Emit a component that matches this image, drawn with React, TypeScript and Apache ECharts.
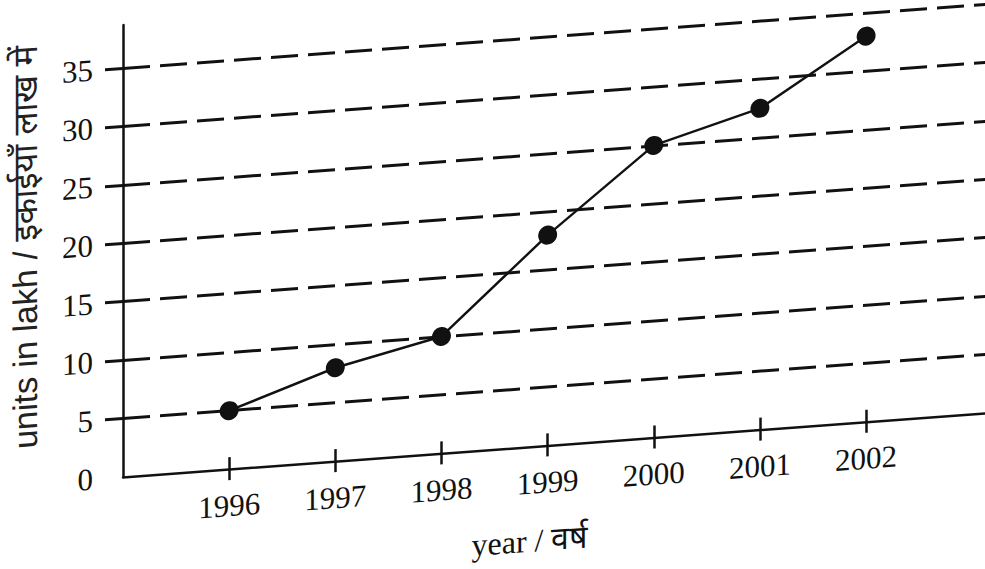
import React, { useEffect, useRef } from "react";
import * as echarts from "echarts";

// ---- data ----
const years = [1996, 1997, 1998, 1999, 2000, 2001, 2002];
const units = [5, 8, 10, 18, 25, 27.5, 33];
const yTickValues = [5, 10, 15, 20, 25, 30, 35];
const yLabelValues = [0, 5, 10, 15, 20, 25, 30, 35];
const xTitle = "year / वर्ष";
const yTitle = "units in lakh / इकाईयाँ लाख में";

const INK = "#111";
const SERIF = "'Liberation Serif', 'DejaVu Serif', serif";
const SANS = "'Liberation Sans', 'Noto Sans', 'DejaVu Sans', sans-serif";

export default function App() {
  const ref = useRef<HTMLDivElement>(null);

  useEffect(() => {
    document.body.style.margin = "0";
    document.body.style.overflow = "hidden";
    document.documentElement.style.overflow = "hidden";
    if (!ref.current) return;
    const chart = echarts.init(ref.current, null, {
      renderer: "svg",
      width: 985,
      height: 640,
    });

    const points = years.map((y, i) => [y, units[i]]);

    chart.setOption({
      animation: false,
      backgroundColor: "#ffffff",
      grid: { left: 123, top: 25, right: 0, bottom: 163, containLabel: false },
      xAxis: [
        {
          type: "value",
          min: 1995,
          max: 2003.12,
          position: "bottom",
          axisLine: { show: true, lineStyle: { color: INK, width: 2.5 } },
          axisTick: {
            show: true,
            customValues: years,
            length: 11,
            lineStyle: { color: INK, width: 2.5 },
          },
          axisLabel: {
            show: true,
            customValues: years,
            fontFamily: SERIF,
            fontSize: 31,
            color: INK,
            margin: 21,
            formatter: (v: number) => String(v),
          },
          splitLine: { show: false },
        },
        {
          type: "value",
          min: 1995,
          max: 2003.12,
          position: "bottom",
          axisLine: { show: false },
          axisTick: {
            show: true,
            inside: true,
            customValues: years,
            length: 12,
            lineStyle: { color: INK, width: 2.5 },
          },
          axisLabel: { show: false },
          splitLine: { show: false },
        },
      ],
      yAxis: [
        {
          type: "value",
          min: 0,
          max: 38.68,
          position: "left",
          axisLine: { show: true, lineStyle: { color: INK, width: 2.5 } },
          axisTick: {
            show: true,
            customValues: yTickValues,
            length: 18,
            lineStyle: { color: INK, width: 3 },
          },
          axisLabel: {
            show: true,
            customValues: yLabelValues,
            fontFamily: SERIF,
            fontSize: 31,
            color: INK,
            margin: 30,
          },
          splitLine: {
            show: true,
            lineStyle: { color: INK, width: 3, type: [27, 10] },
          },
        },
      ],
      graphic: [
        {
          type: "text",
          x: 530,
          y: 571,
          style: {
            text: xTitle,
            font: `32px ${SERIF}`,
            fill: INK,
            textAlign: "center",
            textVerticalAlign: "middle",
          },
        },
        {
          type: "text",
          x: 25,
          y: 240,
          rotation: Math.PI / 2,
          style: {
            text: yTitle,
            font: `34px ${SANS}`,
            fill: "#222",
            textAlign: "center",
            textVerticalAlign: "middle",
          },
        },
      ],
      series: [
        {
          type: "line",
          xAxisIndex: 0,
          yAxisIndex: 0,
          data: points,
          symbol: "circle",
          symbolSize: 19,
          lineStyle: { color: INK, width: 2.5 },
          itemStyle: { color: INK },
        },
      ],
    });

    return () => chart.dispose();
  }, []);

  return (
    <div
      ref={ref}
      style={{
        position: "absolute",
        left: 0,
        top: 0,
        width: 985,
        height: 640,
        transform: "skewY(-4.25deg)",
        transformOrigin: "123px 477px",
      }}
    />
  );
}
